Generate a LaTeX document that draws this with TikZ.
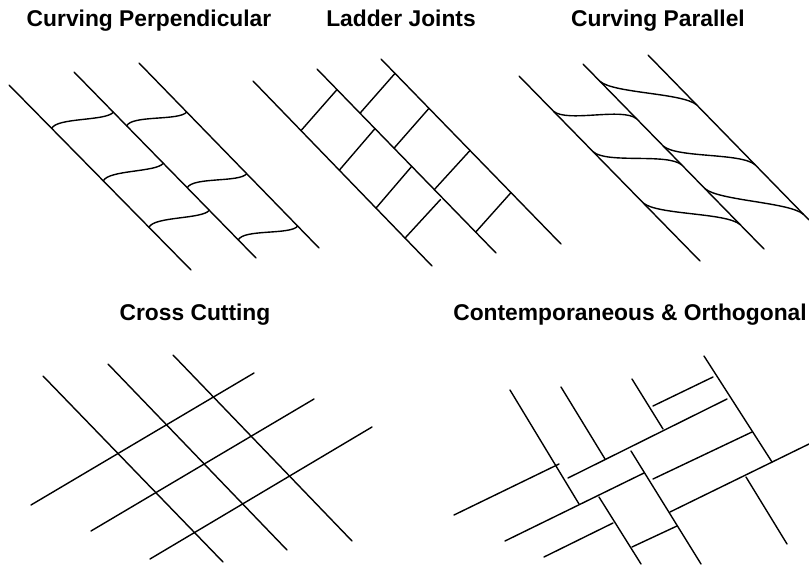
\documentclass[tikz,border=0pt]{standalone}
\usepackage{fontspec}
\setmainfont{Liberation Sans}
\begin{document}
\begin{tikzpicture}[
    x=1pt, y=-1pt,
    title/.style={anchor=base, inner sep=0pt,
                  font=\fontsize{22.8}{27}\selectfont\bfseries},
    joint/.style={line width=1.4pt, line cap=round}
]
\useasboundingbox (0,0) rectangle (809,565);

% titles
\node[title] (tperp)  at (149,26.5) {Curving Perpendicular};
\node[title] (tladder) at (401,26.5) {Ladder Joints};
\node[title] (tpar)   at (658,26.5) {Curving Parallel};
\node[title] (tcross) at (195,320) {Cross Cutting};
\node[title] (tcont)  at (630,320) {Contemporaneous \& Orthogonal};

% curving perpendicular
\foreach \xa/\ya/\xb/\yb in {9/85/191/270, 74/72/256/258, 139/63/319/248}
    \draw[joint] (\xa,\ya) -- (\xb,\yb);
\foreach \xa/\ya/\xb/\yb in {51.7/128.4/113.3/112.2, 126.7/125.9/186.7/112,
        103.3/180.9/163.3/163.3, 187.3/187.8/246.7/173.7,
        149/227.3/209.3/210.3, 238.3/239.9/297.7/226.1}
    \draw[joint] (\xa,\ya) .. controls +(5,-11) and +(-7,9) .. (\xb,\yb);

% ladder joints
\foreach \xa/\ya/\xb/\yb in {253/81/432/266, 317/69/496/253, 381/59/561/244}
    \draw[joint] (\xa,\ya) -- (\xb,\yb);
\foreach \xa/\ya/\xb/\yb in {301/130.6/337/89.6, 339.3/170.2/375/128.6,
        376/208.1/411.7/166.4, 405/238.1/440.5/199.5,
        360/113.2/395/73.4, 394/148.2/429/108.3,
        434.3/189.6/470/150.5, 475.7/232.1/511/192.6}
    \draw[joint] (\xa,\ya) -- (\xb,\yb);

% curving parallel
\foreach \xa/\ya/\xb/\yb in {519/76/700/261, 583/64/764/249, 648/55/809/220}
    \draw[joint] (\xa,\ya) -- (\xb,\yb);
\foreach \xa/\ya/\xb/\yb in {553.3/111.1/636.7/118.9, 600/81.4/696.7/104.9,
        593.3/151.9/681.7/164.9, 663.3/146.1/755/164.7,
        643.3/203/740/224.5, 705/188.7/803.3/214.2}
    \draw[joint] (\xa,\ya) .. controls +(14,12) and +(-14,-12) .. (\xb,\yb);

% cross cutting
\foreach \xa/\ya/\xb/\yb in {43/376/223/562, 108/364/287/550, 173/355/352/541,
        31/505/254/373, 91/531/314/399, 150/559/372/427}
    \draw[joint] (\xa,\ya) -- (\xb,\yb);

% contemporaneous & orthogonal
\foreach \xa/\ya/\xb/\yb in {454/515/559/464, 568/478/727/399, 505/541/644/473,
        653/479/752/432, 670/512/809/444, 653/406/713/377,
        544/557/613/523, 632/547/677/526}
    \draw[joint] (\xa,\ya) -- (\xb,\yb);
\foreach \xa/\ya/\xb/\yb in {510/390/579/504, 561/387/605/459, 632/379/663/429,
        704/356/772/462, 631/451/701/564, 599/497/641/564, 746/477/787/544}
    \draw[joint] (\xa,\ya) -- (\xb,\yb);
\end{tikzpicture}
\end{document}
